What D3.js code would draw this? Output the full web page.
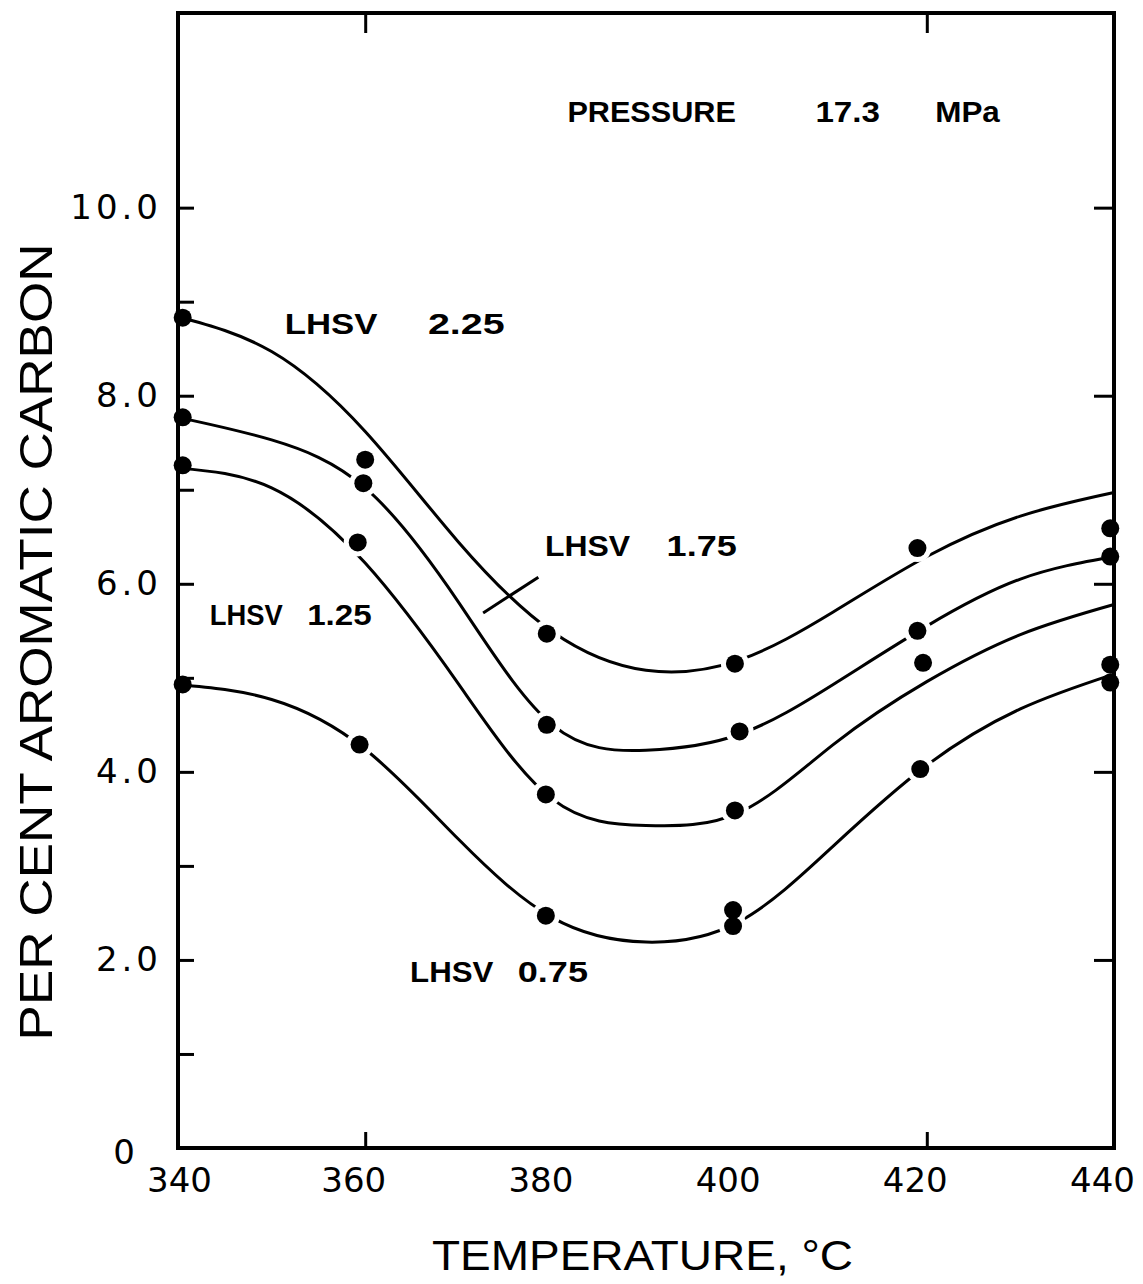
<!DOCTYPE html>
<html>
<head>
<meta charset="utf-8">
<script src="https://cdn.jsdelivr.net/npm/d3@7"></script>
<style>
  body { margin: 0; background: #fff; }
</style>
</head>
<body>
<div id="chart"></div>
<script>
/* Per cent aromatic carbon vs temperature, four LHSV runs */

// measured points (temperature, per cent aromatic carbon)
const temps225 = [340.5, 360.0, 379.4, 399.5, 419.0, 439.6];
const vals225  = [8.83, 7.32, 5.47, 5.15, 6.38, 6.59];
const temps175 = [340.5, 359.8, 379.4, 400.0, 419.0, 439.6];
const vals175  = [7.77, 7.07, 4.50, 4.43, 5.50, 6.29];
const temps125 = [340.5, 359.2, 379.3, 399.5, 419.6, 439.6];
const vals125  = [7.26, 6.44, 3.76, 3.59, 5.16, 5.14];
const temps075 = [340.5, 359.4, 379.3, 399.3, 399.3, 419.3, 439.6];
const vals075  = [4.93, 4.29, 2.47, 2.53, 2.36, 4.03, 4.95];

const curveTemps = [340, 350, 360, 370, 380, 390, 400, 410, 420, 430, 440];
const fit225 = [8.84, 8.47, 7.62, 6.44, 5.49, 5.08, 5.19, 5.70, 6.29, 6.72, 6.97];
const fit175 = [7.77, 7.53, 7.02, 5.80, 4.50, 4.23, 4.40, 4.93, 5.55, 6.05, 6.29];
const fit125 = [7.23, 7.02, 6.22, 4.93, 3.71, 3.43, 3.57, 4.29, 4.96, 5.46, 5.78];
const fit075 = [4.93, 4.77, 4.24, 3.28, 2.45, 2.19, 2.41, 3.21, 4.07, 4.67, 5.04];

// ticks
const xTicks = [340, 360, 380, 400, 420, 440];
const xTickMarks = [360, 420];
const yMajor = [2, 4, 6, 8, 10];
const yMinor = [1, 3, 5, 7, 9];

const width = 1143,
      height = 1284,
      margin = ({ top: 13, right: 29, bottom: 136, left: 178 });

const series = [
    { t: temps225, v: vals225, fit: fit225 },
    { t: temps175, v: vals175, fit: fit175 },
    { t: temps125, v: vals125, fit: fit125 },
    { t: temps075, v: vals075, fit: fit075 }
];

let svg = d3.select("#chart")
    .append("svg")
    .attr("width", width)
    .attr("height", height)
    .attr("viewBox", [0, 0, width, height]);

let x = d3.scaleLinear()
    .domain([340, 440])
    .range([margin.left, width - margin.right]);

let y = d3.scaleLinear()
    .domain([0, 12.07])
    .range([height - margin.bottom, margin.top]);

const x0 = x.range()[0], x1 = x.range()[1];
const yb = y.range()[0], yt = y.range()[1];

/* frame */
svg.append("rect")
    .attr("x", x0)
    .attr("y", yt)
    .attr("width", x1 - x0)
    .attr("height", yb - yt)
    .attr("fill", "none")
    .attr("stroke", "black")
    .attr("stroke-width", 4);

function styleAxis(g) {
    g.select(".domain").remove();
    g.selectAll(".tick line").attr("stroke", "black").attr("stroke-width", 3);
    g.attr("font-family", "DejaVu Sans").attr("font-size", 34);
    g.selectAll(".tick text").attr("fill", "black");
}

/* bottom: labels, then the few inward ticks */
svg.append("g")
    .attr("transform", `translate(0,${yb})`)
    .call(d3.axisBottom(x).tickValues(xTicks).tickSize(0).tickPadding(20).tickFormat(d3.format("d")))
    .call(styleAxis)
    .call(g => g.selectAll(".tick text").attr("dx", d => d > 340 ? -12 : 1)); // labels sit a bit left of their ticks

svg.append("g")
    .attr("transform", `translate(0,${yb})`)
    .call(d3.axisBottom(x).tickValues(xTickMarks).tickSizeInner(-16).tickSizeOuter(0).tickFormat(""))
    .call(styleAxis);

svg.append("g")
    .attr("transform", `translate(0,${yt})`)
    .call(d3.axisTop(x).tickValues(xTickMarks).tickSizeInner(-20).tickSizeOuter(0).tickFormat(""))
    .call(styleAxis);

/* left axis */
svg.append("g")
    .attr("transform", `translate(${x0},0)`)
    .call(d3.axisLeft(y).tickValues(yMajor).tickSizeInner(-16).tickSizeOuter(0).tickPadding(16).tickFormat(d3.format(".1f")))
    .call(styleAxis)
    .call(g => g.selectAll(".tick text").attr("letter-spacing", 4));

svg.append("g")
    .attr("transform", `translate(${x0},0)`)
    .call(d3.axisLeft(y).tickValues(yMinor).tickSizeInner(-16).tickSizeOuter(0).tickFormat(""))
    .call(styleAxis);

svg.append("g")
    .attr("transform", `translate(${x1},0)`)
    .call(d3.axisRight(y).tickValues(yMajor).tickSizeInner(-20).tickSizeOuter(0).tickFormat(""))
    .call(styleAxis);

// the lone "0" sits down by the corner
svg.append("text")
    .text("0")
    .attr("x", x0 - 43)
    .attr("y", y(0) + 4)
    .attr("dy", "0.35em")
    .attr("text-anchor", "end")
    .attr("font-family", "DejaVu Sans")
    .attr("font-size", 34);

/* curves */
let line = d3.line()
    .x(d => x(d[0]))
    .y(d => y(d[1]))
    .curve(d3.curveNatural);

svg.selectAll(".fit")
    .data(series)
    .join("path")
    .attr("class", "fit")
    .attr("d", s => line(curveTemps.map((t, i) => [t, s.fit[i]])))
    .attr("fill", "none")
    .attr("stroke", "black")
    .attr("stroke-width", 3);

/* points: white halo for inner points leaves the small gaps in the curve */
const pts = series.flatMap(s => s.t.map((t, i) => ({ t: t, v: s.v[i] })));

svg.selectAll(".halo")
    .data(pts.filter(d => d.t > 342 && d.t < 438))
    .join("circle")
    .attr("class", "halo")
    .attr("cx", d => x(d.t))
    .attr("cy", d => y(d.v))
    .attr("r", 14)
    .attr("fill", "white");

svg.selectAll(".dot")
    .data(pts)
    .join("circle")
    .attr("class", "dot")
    .attr("cx", d => x(d.t))
    .attr("cy", d => y(d.v))
    .attr("r", 9)
    .attr("fill", "black");

/* annotations */
let note = svg.append("g")
    .attr("font-family", "Liberation Sans")
    .attr("font-weight", "bold")
    .attr("font-size", 30)
    .attr("fill", "black");

function label(parts, yv) {
    let t = note.append("text").attr("y", y(yv));
    for (let p of parts) {
        t.append("tspan")
            .attr("x", x(p[1]))
            .attr("textLength", x(p[2]) - x(p[1]))
            .attr("lengthAdjust", "spacingAndGlyphs")
            .text(p[0]);
    }
}

label([["PRESSURE", 381.6, 399.6], ["17.3", 408.1, 415.0], ["MPa", 420.9, 427.8]], 10.91);
label([["LHSV", 351.4, 361.3], ["2.25", 366.7, 374.9]], 8.66);
label([["LHSV", 379.2, 388.3], ["1.75", 392.2, 399.7]], 6.30);
label([["LHSV", 343.4, 351.2], ["1.25", 353.8, 360.7]], 5.56);
label([["LHSV", 364.8, 373.7], ["0.75", 376.3, 383.8]], 1.76);

// leader from the 1.75 label to its curve
svg.append("line")
    .attr("x1", x(372.6)).attr("y1", y(5.69))
    .attr("x2", x(378.5)).attr("y2", y(6.07))
    .attr("stroke", "black")
    .attr("stroke-width", 3);

/* axis titles */
svg.append("text")
    .text("TEMPERATURE, °C")
    .attr("x", 432)
    .attr("y", 1270)
    .attr("textLength", 421)
    .attr("lengthAdjust", "spacingAndGlyphs")
    .attr("font-family", "Liberation Sans")
    .attr("font-size", 42);

svg.append("text")
    .text("PER CENT AROMATIC CARBON")
    .attr("transform", `translate(52,642) rotate(-90)`)
    .attr("text-anchor", "middle")
    .attr("textLength", 797)
    .attr("lengthAdjust", "spacingAndGlyphs")
    .attr("font-family", "Liberation Sans")
    .attr("font-size", 47);
</script>
</body>
</html>
